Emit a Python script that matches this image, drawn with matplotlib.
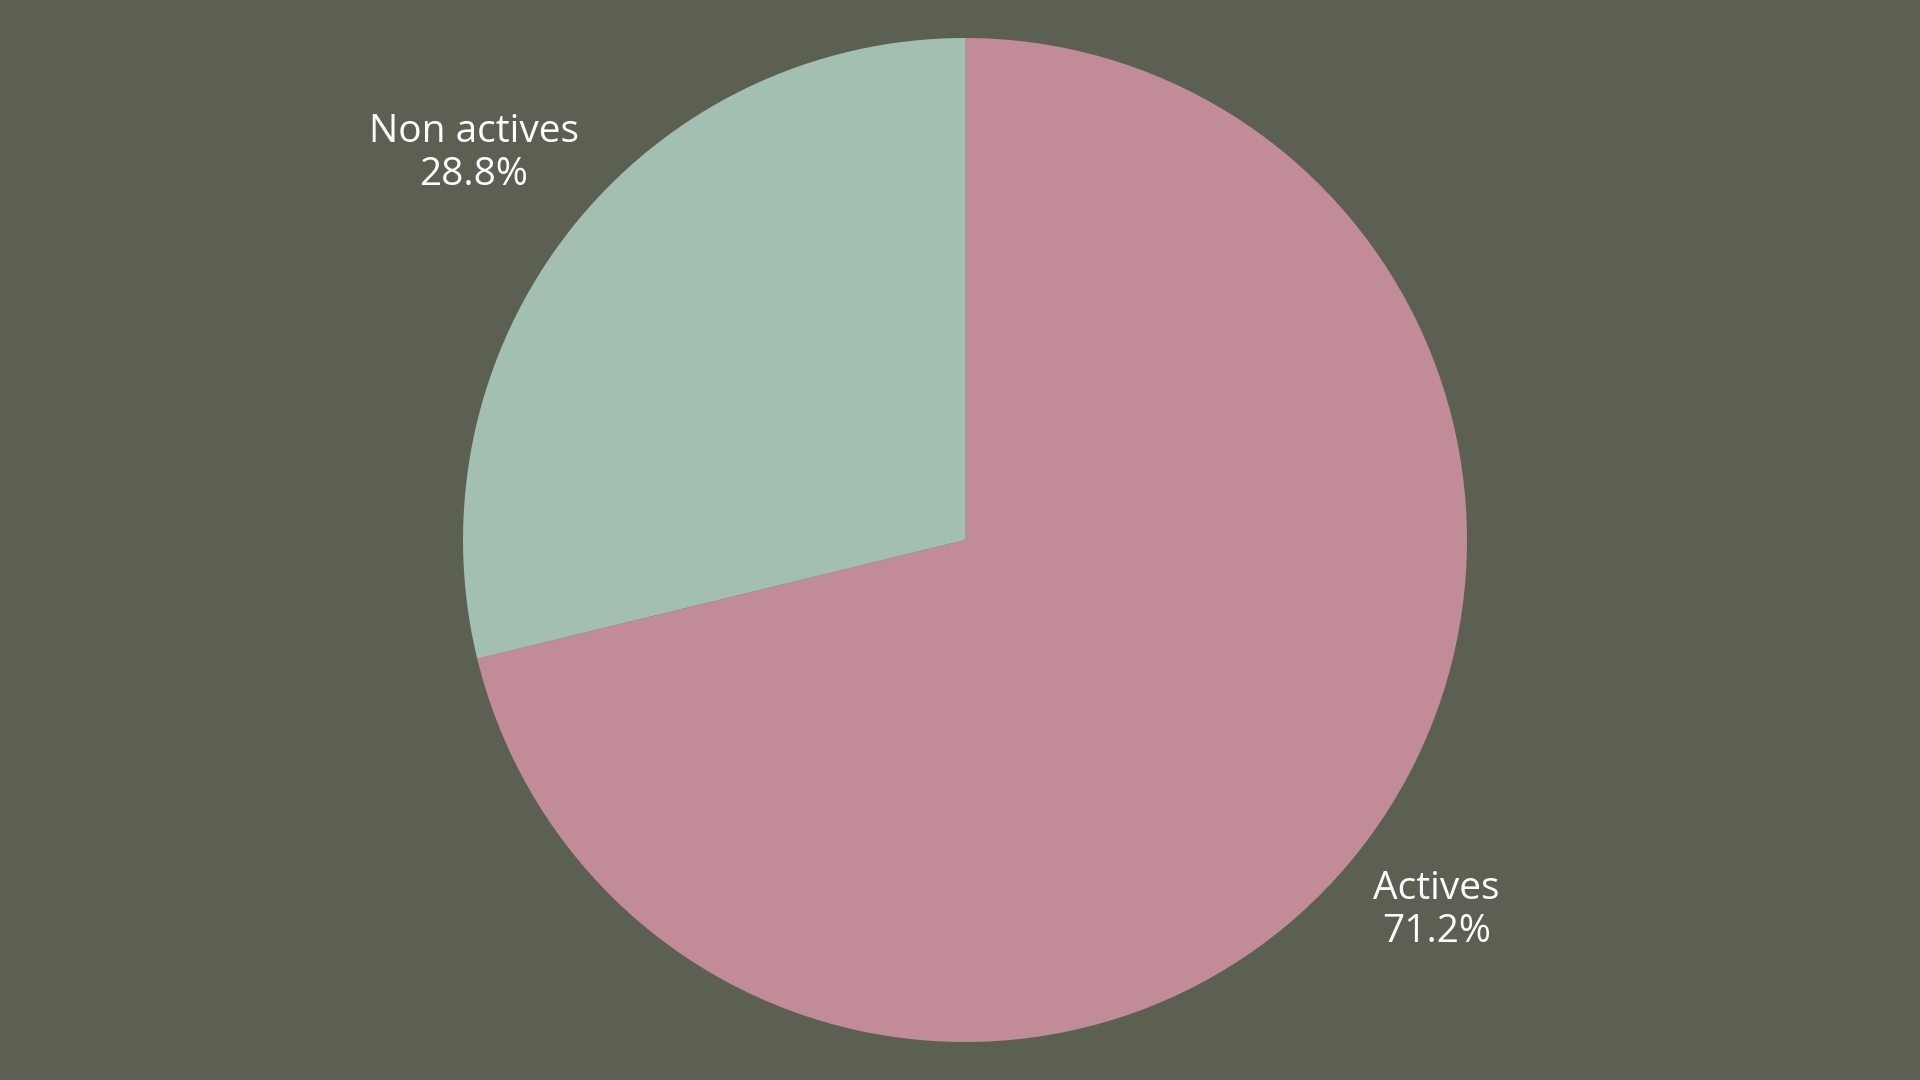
import matplotlib.pyplot as plt
import numpy as np

# Data
labels = ['Actives', 'Non actives']
shares = [71.2, 28.8]
colors = ['#c28b98', '#a2bfb1']
label_dist = [1.195, 1.245]

bg = '#5c6052'

fig = plt.figure(figsize=(19.2, 10.8), dpi=100, facecolor=bg)
ax = fig.add_axes([0, 0, 1, 1])
ax.set_facecolor(bg)

wedges, _ = ax.pie(shares, colors=colors, startangle=90, counterclock=False,
                   radius=1.0, wedgeprops=dict(linewidth=0))

for w, lab, val, d in zip(wedges, labels, shares, label_dist):
    ang = np.deg2rad((w.theta1 + w.theta2) / 2)
    ax.text(d * np.cos(ang), d * np.sin(ang), f'{lab}\n{val:.1f}%',
            ha='center', va='center', color='white', fontsize=28,
            family='Open Sans', linespacing=1.17)

r = 502
ax.set_xlim(-965 / r, 955 / r)
ax.set_ylim(-540 / r, 540 / r)
ax.set_aspect('equal')
ax.axis('off')

fig.savefig('out.png', dpi=100, facecolor=bg)
